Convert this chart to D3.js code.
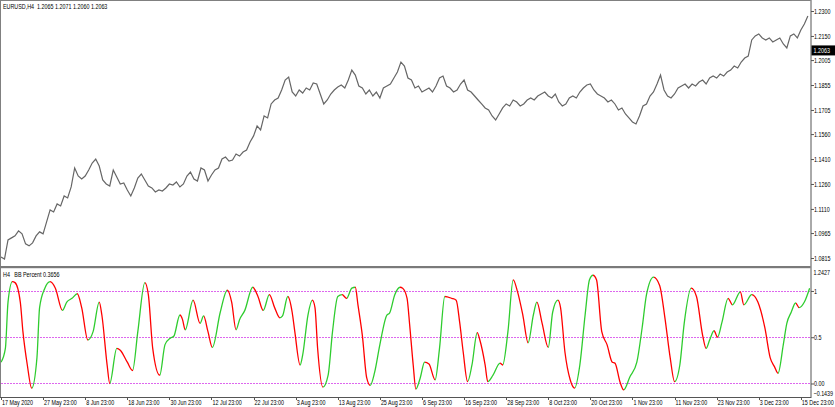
<!DOCTYPE html>
<html><head><meta charset="utf-8">
<script src="https://cdn.jsdelivr.net/npm/d3@7"></script>
<style>
html,body{margin:0;padding:0;background:#fff;overflow:hidden;}
svg{display:block;}
text{font-family:"Liberation Sans",Arial,sans-serif;font-size:7px;fill:#000;white-space:pre;}
</style></head><body>
<svg id="c" width="835" height="407"></svg>
<script>
// ---- data ----
const titleMain = "EURUSD,H4  1.2065 1.2071 1.2060 1.2063";
const titleSub = "H4   BB Percent 0.3656";
const lastPrice = 1.2063;
const priceStep = 4; // bars between samples
const priceVals = [
1.0821,1.0809,1.0924,1.0936,1.0948,1.0978,1.0960,1.0900,1.0888,1.0906,
1.0948,1.0972,1.0960,1.1032,1.1104,1.1092,1.1140,1.1128,1.1188,1.1176,
1.1242,1.1356,1.1308,1.1290,1.1308,1.1344,1.1386,1.1410,1.1368,1.1284,
1.1260,1.1248,1.1344,1.1302,1.1260,1.1266,1.1224,1.1188,1.1236,1.1296,
1.1320,1.1284,1.1248,1.1236,1.1212,1.1224,1.1218,1.1236,1.1260,1.1254,
1.1272,1.1242,1.1260,1.1308,1.1332,1.1290,1.1278,1.1356,1.1344,1.1278,
1.1314,1.1344,1.1356,1.1410,1.1422,1.1398,1.1404,1.1440,1.1428,1.1452,
1.1464,1.1513,1.1549,1.1609,1.1585,1.1669,1.1657,1.1741,1.1765,1.1777,
1.1825,1.1885,1.1903,1.1813,1.1789,1.1825,1.1807,1.1837,1.1825,1.1867,
1.1861,1.1801,1.1741,1.1765,1.1801,1.1825,1.1843,1.1855,1.1837,1.1885,
1.1945,1.1915,1.1849,1.1837,1.1801,1.1825,1.1789,1.1813,1.1777,1.1837,
1.1849,1.1861,1.1897,1.1933,1.1993,1.1969,1.1897,1.1885,1.1837,1.1849,
1.1813,1.1825,1.1837,1.1813,1.1849,1.1897,1.1909,1.1849,1.1837,1.1813,
1.1825,1.1861,1.1885,1.1825,1.1813,1.1789,1.1765,1.1741,1.1717,1.1705,
1.1669,1.1645,1.1681,1.1717,1.1741,1.1729,1.1765,1.1753,1.1729,1.1741,
1.1765,1.1777,1.1765,1.1789,1.1801,1.1813,1.1789,1.1777,1.1801,1.1753,
1.1729,1.1741,1.1777,1.1789,1.1777,1.1813,1.1837,1.1855,1.1861,1.1825,
1.1801,1.1789,1.1777,1.1753,1.1765,1.1741,1.1705,1.1717,1.1681,1.1657,
1.1633,1.1621,1.1669,1.1729,1.1741,1.1789,1.1813,1.1861,1.1915,1.1825,
1.1789,1.1777,1.1801,1.1837,1.1849,1.1861,1.1837,1.1861,1.1849,1.1873,
1.1885,1.1861,1.1897,1.1909,1.1897,1.1921,1.1909,1.1933,1.1945,1.1969,
1.1957,1.1993,1.2017,1.2029,1.2126,1.2150,1.2162,1.2138,1.2126,1.2138,
1.2114,1.2126,1.2138,1.2102,1.2078,1.2150,1.2162,1.2138,1.2186,1.2222,
1.2270];
const bbBars = [0,5,8,13,16,22,25,30,35,41,44,50,56,62,70,75,81,87,92,99,
105,112,115,121,124,132,136,144,150,156,164,168,173,181,187,193,197,204,207,210,
219,227,231,236,241,250,258,263,268,272,278,287,293,299,306,312,318,321,327,332,
335,341,344,350,355,358,361,367,373,378,384,389,394,400,404,407,412,417,421,426,
432,440,443,449,455,458,463,466,470,473,478,483,488,495,500,506,514,519,523,527,
532,537,543,546,552,555,561,569,572,578,584,589,595,601,607,611,617,624,629,635,
638,643,649,654,660,666,671,675,679,685,691,697,700,706,710,717,725,731,736,744,
751,757,763,768,774,779,787,793,800,804,808,813,817,822,829,834,843,847,856,863,
871,877,882,886,892,896,901,906,910,916,922];
const bbVals = [0.23,0.38,0.88,1.10,1.09,0.88,0.56,0.20,-0.05,0.28,
0.82,1.03,1.10,1.03,0.79,0.88,0.92,0.97,0.82,0.47,
0.56,0.88,0.74,0.20,0.00,0.38,0.36,0.23,0.14,0.56,
1.09,0.96,0.38,0.09,0.42,0.49,0.51,0.74,0.69,0.58,
0.90,0.65,0.73,0.56,0.39,0.77,1.01,0.88,0.58,0.69,
0.79,1.04,0.94,0.79,0.96,0.82,0.71,0.73,0.94,0.77,
0.56,0.20,0.31,0.74,0.90,0.82,0.38,-0.04,0.09,0.56,
0.94,0.96,0.92,1.03,1.04,0.85,0.52,0.06,-0.02,0.12,
0.42,0.74,0.76,0.96,1.04,1.03,0.92,0.63,0.20,-0.06,
0.06,0.23,0.21,0.04,0.38,0.94,0.92,0.90,0.66,0.34,
0.02,0.20,0.55,0.47,0.20,0.02,0.09,0.22,0.20,0.56,
1.12,0.99,0.74,0.44,0.74,0.88,0.65,0.39,0.77,0.90,
0.82,0.34,0.04,-0.05,0.20,0.74,1.12,1.17,1.12,0.56,
0.42,0.23,0.22,0.01,-0.07,0.07,0.23,0.60,0.96,1.15,
1.06,0.71,0.28,0.02,0.20,0.65,1.03,0.94,0.52,0.38,
0.47,0.57,0.50,0.66,0.92,0.85,0.99,0.85,0.96,0.88,
0.60,0.28,0.18,0.11,0.42,0.65,0.77,0.87,0.82,0.88,
1.03];
const priceTicks = [1.2300,1.2150,1.2005,1.1855,1.1705,1.1560,1.1410,1.1260,1.1110,1.0965,1.0815];
const bbLevels = [1, 0.5, 0];
const bbLevelLabels = ["1", "0.5", "0.00"];
const bbRange = [-0.1439, 1.2427];
const timeLabels = ["17 May 2020","27 May 23:00","8 Jun 23:00","18 Jun 23:00","30 Jun 23:00","12 Jul 23:00","22 Jul 23:00","3 Aug 23:00","13 Aug 23:00","25 Aug 23:00","6 Sep 23:00","16 Sep 23:00","28 Sep 23:00","8 Oct 23:00","20 Oct 23:00","1 Nov 23:00","11 Nov 23:00","23 Nov 23:00","3 Dec 23:00","15 Dec 23:00"];
const timeLabelBars = [0,48,96,144,192,240,288,336,384,432,480,528,576,624,672,720,768,816,864,912];
const totalBars = 923;

// ---- layout ----
const W = 835, H = 407;
const plotL = 1, plotR = 810.5;
const topPanel = {y0: 1, y1: 266};
const botPanel = {y0: 268.5, y1: 396.8};
const SX = 0.77; // narrow font look

const svg = d3.select("#c");
const x = d3.scaleLinear().domain([0, totalBars]).range([plotL, plotR]);
const yP = d3.scaleLinear().domain([1.0815, 1.2300]).range([258, 11]);
const yB = d3.scaleLinear().domain(bbRange).range([botPanel.y1, botPanel.y0]);

function narrow(sel){
  sel.each(function(){
    const t = d3.select(this);
    const tx = +t.attr("x") || 0, ty = +t.attr("y") || 0;
    t.attr("x",0).attr("y",0).attr("transform",`translate(${tx},${ty}) scale(${SX},1)`);
  });
}
function label(g, tx, ty, str){
  return g.append("text").attr("transform",`translate(${tx},${ty}) scale(${SX},1)`).text(str);
}

const defs = svg.append("defs");
defs.append("clipPath").attr("id","clipTop").append("rect")
  .attr("x", plotL).attr("y", topPanel.y0).attr("width", plotR-plotL).attr("height", topPanel.y1-topPanel.y0);
defs.append("clipPath").attr("id","clipBot").append("rect")
  .attr("x", plotL).attr("y", botPanel.y0).attr("width", plotR-plotL).attr("height", botPanel.y1-botPanel.y0);

// frame
svg.append("line").attr("x1",0.5).attr("x2",0.5).attr("y1",0).attr("y2",397).attr("stroke","#808080");
svg.append("line").attr("x1",0).attr("x2",plotR).attr("y1",0.5).attr("y2",0.5).attr("stroke","#808080");
svg.append("rect").attr("x",0).attr("y",266).attr("width",plotR).attr("height",2.2).attr("fill","#7a7a7a");
svg.append("line").attr("x1",0).attr("x2",plotR+0.5).attr("y1",397.5).attr("y2",397.5).attr("stroke","#555");
svg.append("line").attr("x1",plotR+0.5).attr("x2",plotR+0.5).attr("y1",0).attr("y2",398).attr("stroke","#555");

// price line
svg.append("path").datum(priceVals)
  .attr("clip-path","url(#clipTop)")
  .attr("fill","none").attr("stroke","#666").attr("stroke-width",1.2)
  .attr("d", d3.line().x((d,i)=>x(i*priceStep)).y(d=>yP(d)));

// top right axis
const axTop = svg.append("g").attr("transform",`translate(${plotR+0.5},0)`)
  .call(d3.axisRight(yP).tickValues(priceTicks).tickFormat(d3.format(".4f")).tickSize(3).tickPadding(0));
axTop.select(".domain").remove();
axTop.selectAll("line").attr("stroke","#555");
axTop.selectAll("text").attr("font-size",null).attr("font-family",null).call(narrow);

// last price tag
const lp = svg.append("g");
lp.append("rect").attr("x",plotR+1).attr("y",yP(lastPrice)-5).attr("width",W-plotR-1).attr("height",10).attr("fill","#000");
label(lp, plotR+3, yP(lastPrice)+2.4, d3.format(".4f")(lastPrice)).style("fill","#fff");

// titles
label(svg, 3, 9, titleMain);
label(svg, 3, 276.5, titleSub);

// BB levels (dotted violet)
svg.append("g").attr("class","levels").selectAll("line").data(bbLevels).join("line")
  .attr("x1",plotL).attr("x2",plotR).attr("y1",d=>Math.round(yB(d))+0.5).attr("y2",d=>Math.round(yB(d))+0.5)
  .style("stroke","#dd66ee").style("stroke-width","1px").style("stroke-dasharray","2,1");

// BB line with direction colouring
const green = "#2ecc2e", red = "#ff0000";
const grad = defs.append("linearGradient").attr("id","bbgrad").attr("gradientUnits","userSpaceOnUse")
  .attr("x1",x(0)).attr("x2",x(totalBars)).attr("y1",0).attr("y2",0);
const span = x(totalBars)-x(0);
const n = Math.min(bbBars.length, bbVals.length);
for (let i=0;i<n-1;i++){
  const c = bbVals[i+1] >= bbVals[i] ? green : red;
  grad.append("stop").attr("offset",(x(bbBars[i])-x(0))/span).attr("stop-color",c);
  grad.append("stop").attr("offset",(x(bbBars[i+1])-x(0))/span).attr("stop-color",c);
}
const bbData = d3.range(n).map(i=>[bbBars[i], bbVals[i]]);
svg.append("path").datum(bbData)
  .attr("clip-path","url(#clipBot)")
  .attr("fill","none").attr("stroke","url(#bbgrad)").attr("stroke-width",1.3)
  .attr("d", d3.line().curve(d3.curveMonotoneX).x(d=>x(d[0])).y(d=>yB(d[1])));

// bottom right axis
const axBot = svg.append("g").attr("transform",`translate(${plotR+0.5},0)`)
  .call(d3.axisRight(yB).tickValues(bbLevels).tickFormat((d,i)=>bbLevelLabels[i]).tickSize(3).tickPadding(0));
axBot.select(".domain").remove();
axBot.selectAll("line").attr("stroke","#555");
axBot.selectAll("text").attr("font-size",null).attr("font-family",null).call(narrow);
label(svg, plotR+3, yB(bbRange[1])+6.5, d3.format(".4f")(bbRange[1]));
label(svg, plotR+3, yB(bbRange[0])-0.5, d3.format(".4f")(bbRange[0]));

// time axis
const tg = svg.append("g").selectAll("g").data(timeLabelBars).join("g");
tg.append("line").attr("x1",d=>Math.round(x(d))+0.5).attr("x2",d=>Math.round(x(d))+0.5).attr("y1",397).attr("y2",400).attr("stroke","#555");
tg.each(function(d,i){ label(d3.select(this), x(d)+1, 404.5, timeLabels[i]); });
</script>
</body></html>
